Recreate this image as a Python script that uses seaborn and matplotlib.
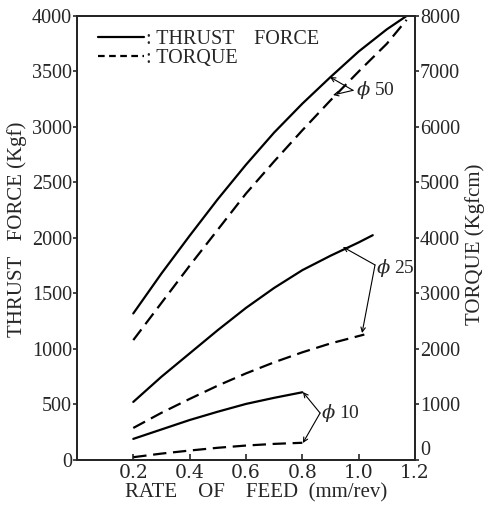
import matplotlib
matplotlib.use("Agg")
import matplotlib.pyplot as plt
import seaborn as sns
from matplotlib.lines import Line2D

# 読み取り値 (feed mm/rev)
feed_50 = [0.2, 0.3, 0.4, 0.5, 0.6, 0.7, 0.8, 0.9, 1.0, 1.1, 1.17]
thrust_50 = [1320, 1680, 2020, 2350, 2660, 2950, 3210, 3450, 3680, 3880, 4000]
torque_50 = [2160, 2830, 3500, 4150, 4800, 5380, 5940, 6480, 7000, 7500, 7930]

feed_25_thrust = [0.2, 0.3, 0.4, 0.5, 0.6, 0.7, 0.8, 0.9, 1.0, 1.05]
thrust_25 = [523, 750, 960, 1170, 1370, 1550, 1710, 1840, 1960, 2025]
feed_25_torque = [0.2, 0.3, 0.4, 0.5, 0.6, 0.7, 0.8, 0.9, 1.02]
torque_25 = [577, 850, 1100, 1340, 1560, 1760, 1940, 2100, 2260]

feed_10 = [0.2, 0.3, 0.4, 0.5, 0.6, 0.7, 0.8]
thrust_10 = [190, 275, 360, 435, 505, 560, 610]
torque_10 = [50, 115, 170, 220, 260, 290, 310]

x_ticks = [0.2, 0.4, 0.6, 0.8, 1.0, 1.2]
x_labels = ['0.2', '0.4', '0.6', '0.8', '1.0', '1.2']
thrust_ticks = [0, 500, 1000, 1500, 2000, 2500, 3000, 3500, 4000]
torque_ticks = [0, 1000, 2000, 3000, 4000, 5000, 6000, 7000, 8000]

sns.set_style("ticks")
plt.rcParams['font.family'] = ['Liberation Serif', 'DejaVu Serif']
plt.rcParams['mathtext.fontset'] = 'dejavuserif'

fig = plt.figure(figsize=(4.9, 5.12), dpi=100)
ax = fig.add_axes([0.157, 0.1016, 0.690, 0.8672])
ax2 = ax.twinx()

lw = 1.6
dash = (6, 3)
for f, t in [(feed_50, thrust_50), (feed_25_thrust, thrust_25), (feed_10, thrust_10)]:
    sns.lineplot(x=f, y=t, ax=ax, color='black', lw=lw)
for f, q in [(feed_50, torque_50), (feed_25_torque, torque_25), (feed_10, torque_10)]:
    sns.lineplot(x=f, y=q, ax=ax2, color='black', lw=lw, linestyle=(0, dash))

ax.set_xlim(0, 1.2)
ax.set_ylim(0, 4000)
ax2.set_ylim(0, 8000)
ax.set_xticks(x_ticks)
ax.set_xticklabels(x_labels, family='DejaVu Serif', fontsize=13.5)
ax.set_yticks(thrust_ticks)
ax2.set_yticks(torque_ticks)

for a in (ax, ax2):
    a.tick_params(axis='y', direction='out', length=3, width=1.2,
                  labelsize=14.5, pad=0.5)
    for s in a.spines.values():
        s.set_linewidth(1.4)
        s.set_visible(True)
ax.tick_params(axis='x', direction='in', length=4, width=1.2, pad=3)

# 0 のラベルは少し上に
ax.get_yticklabels()[0].set_va('center_baseline')
ax2.get_yticklabels()[0].set_va('bottom')

ax.set_xlabel('RATE    OF    FEED  (mm/rev)', fontsize=15, labelpad=0)
ax.xaxis.set_label_coords(0.53, -0.052)
ax.set_ylabel('THRUST   FORCE (Kgf)', fontsize=15)
ax.yaxis.set_label_coords(-0.148, 0.52)
ax2.set_ylabel('TORQUE (Kgfcm)', fontsize=15)
ax2.yaxis.set_label_coords(1.148, 0.485)

# φ 注記 (左軸の単位で)
arrow = dict(arrowstyle='->', lw=0.8, color='black', shrinkA=0, shrinkB=0,
             mutation_scale=8)
notes = [
    ('50', (0.98, 3330), (0.898, 3450), (0.909, 3288), (0.99, 3330)),
    ('25', (1.058, 1757), (0.944, 1919), (1.012, 1144), (1.063, 1730)),
    ('10', (0.863, 423), (0.802, 612), (0.802, 153), (0.868, 420)),
]
for lab, origin, t1, t2, tpos in notes:
    ax.annotate('', xy=t1, xytext=origin, arrowprops=arrow)
    ax.annotate('', xy=t2, xytext=origin, arrowprops=arrow)
    ax.text(tpos[0], tpos[1], r'$\phi$ ' + lab, fontsize=14, va='center', ha='left')

handles = [Line2D([], [], color='black', lw=lw),
           Line2D([], [], color='black', lw=lw, linestyle=(0, (3, 2)))]
leg = ax.legend(handles, [': THRUST    FORCE', ': TORQUE'], loc='upper left',
                bbox_to_anchor=(0.02, 1.0), frameon=False, fontsize=14.5,
                handlelength=2.3, handletextpad=0.1, labelspacing=0.0,
                borderaxespad=0.3)

fig.savefig('out.png', dpi=100)
